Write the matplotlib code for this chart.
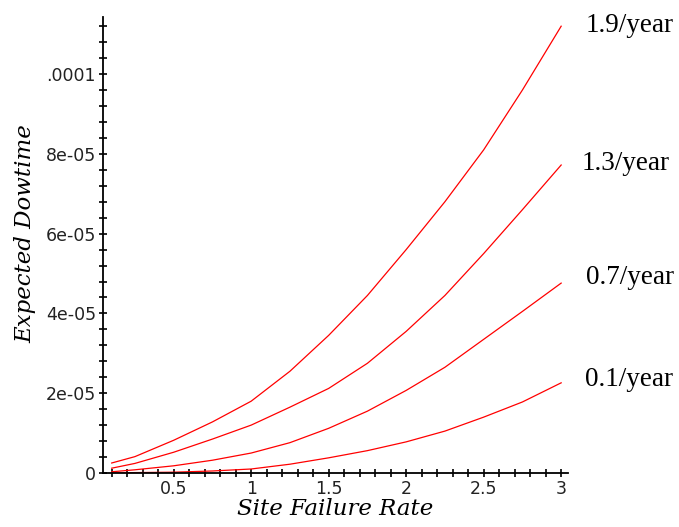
import numpy as np
import matplotlib
matplotlib.use('Agg')
from matplotlib import pyplot as plt
from matplotlib.ticker import MultipleLocator, FixedLocator, FixedFormatter

# site failure rate (x) and expected downtime for each repair-rate curve
rate = [0.1, 0.25, 0.5, 0.75, 1.0, 1.25, 1.5, 1.75, 2.0, 2.25, 2.5, 2.75, 3.0]
down_19 = [2.5e-6, 4.1e-6, 8.2e-6, 1.28e-5, 1.8e-5, 2.55e-5, 3.45e-5, 4.45e-5, 5.6e-5, 6.8e-5, 8.1e-5, 9.6e-5, 1.12e-4]
down_13 = [1.2e-6, 2.4e-6, 5.2e-6, 8.5e-6, 1.2e-5, 1.65e-5, 2.12e-5, 2.75e-5, 3.55e-5, 4.45e-5, 5.5e-5, 6.6e-5, 7.72e-5]
down_07 = [3e-7, 8e-7, 1.8e-6, 3.2e-6, 5.0e-6, 7.6e-6, 1.12e-5, 1.55e-5, 2.07e-5, 2.65e-5, 3.35e-5, 4.05e-5, 4.76e-5]
down_01 = [0.0, 1e-7, 2e-7, 5e-7, 1.0e-6, 2.2e-6, 3.8e-6, 5.6e-6, 7.8e-6, 1.05e-5, 1.4e-5, 1.78e-5, 2.26e-5]
curve_labels = ['1.9/year', '1.3/year', '0.7/year', '0.1/year']

xtick_vals = [0.5, 1, 1.5, 2, 2.5, 3]
xtick_text = ['0.5', '1', '1.5', '2', '2.5', '3']
ytick_vals = [0, 2e-5, 4e-5, 6e-5, 8e-5, 1e-4]
ytick_text = ['0', '2e-05', '4e-05', '6e-05', '8e-05', '.0001']

fig = plt.figure(figsize=(6.79, 5.27), dpi=100)
ax = fig.add_axes([0.1517, 0.1025, 0.6848, 0.8652])

curves = [down_19, down_13, down_07, down_01]
label_offsets = [(24, 1), (20, 2), (25, 6), (24, 3)]
for vals, lab, off in zip(curves, curve_labels, label_offsets):
    ax.plot(rate, vals, color='#ff0000', lw=0.9)
    ax.annotate(lab, xy=(rate[-1], vals[-1]), xytext=off, textcoords='offset pixels',
                fontsize=19.5, family='Liberation Serif', va='center', ha='left',
                annotation_clip=False)

ax.set_xlim(0.044, 3.044)
ax.set_ylim(0, 1.143e-4)

for s in ['top', 'right']:
    ax.spines[s].set_visible(False)
ax.spines['left'].set_linewidth(1.3)
ax.spines['bottom'].set_linewidth(1.3)

ax.xaxis.set_major_locator(FixedLocator(xtick_vals))
ax.xaxis.set_major_formatter(FixedFormatter(xtick_text))
ax.xaxis.set_minor_locator(MultipleLocator(0.1))
ax.yaxis.set_major_locator(FixedLocator(ytick_vals))
ax.yaxis.set_major_formatter(FixedFormatter(ytick_text))
ax.yaxis.set_minor_locator(MultipleLocator(4e-6))

ax.tick_params(which='both', direction='inout', length=6, width=1.2, color='black')
ax.tick_params(axis='both', labelsize=12.5, pad=2)
for t in ax.get_xticklabels() + ax.get_yticklabels():
    t.set_family('DejaVu Sans')
    t.set_color('#222222')

ax.set_xlabel('Site Failure Rate', fontsize=16.5, family='DejaVu Serif', style='italic', labelpad=0)
ax.set_ylabel('Expected Dowtime', fontsize=16.5, family='DejaVu Serif', style='italic')
ax.yaxis.set_label_coords(-0.143, 0.526)

fig.savefig('out.png', dpi=100)
